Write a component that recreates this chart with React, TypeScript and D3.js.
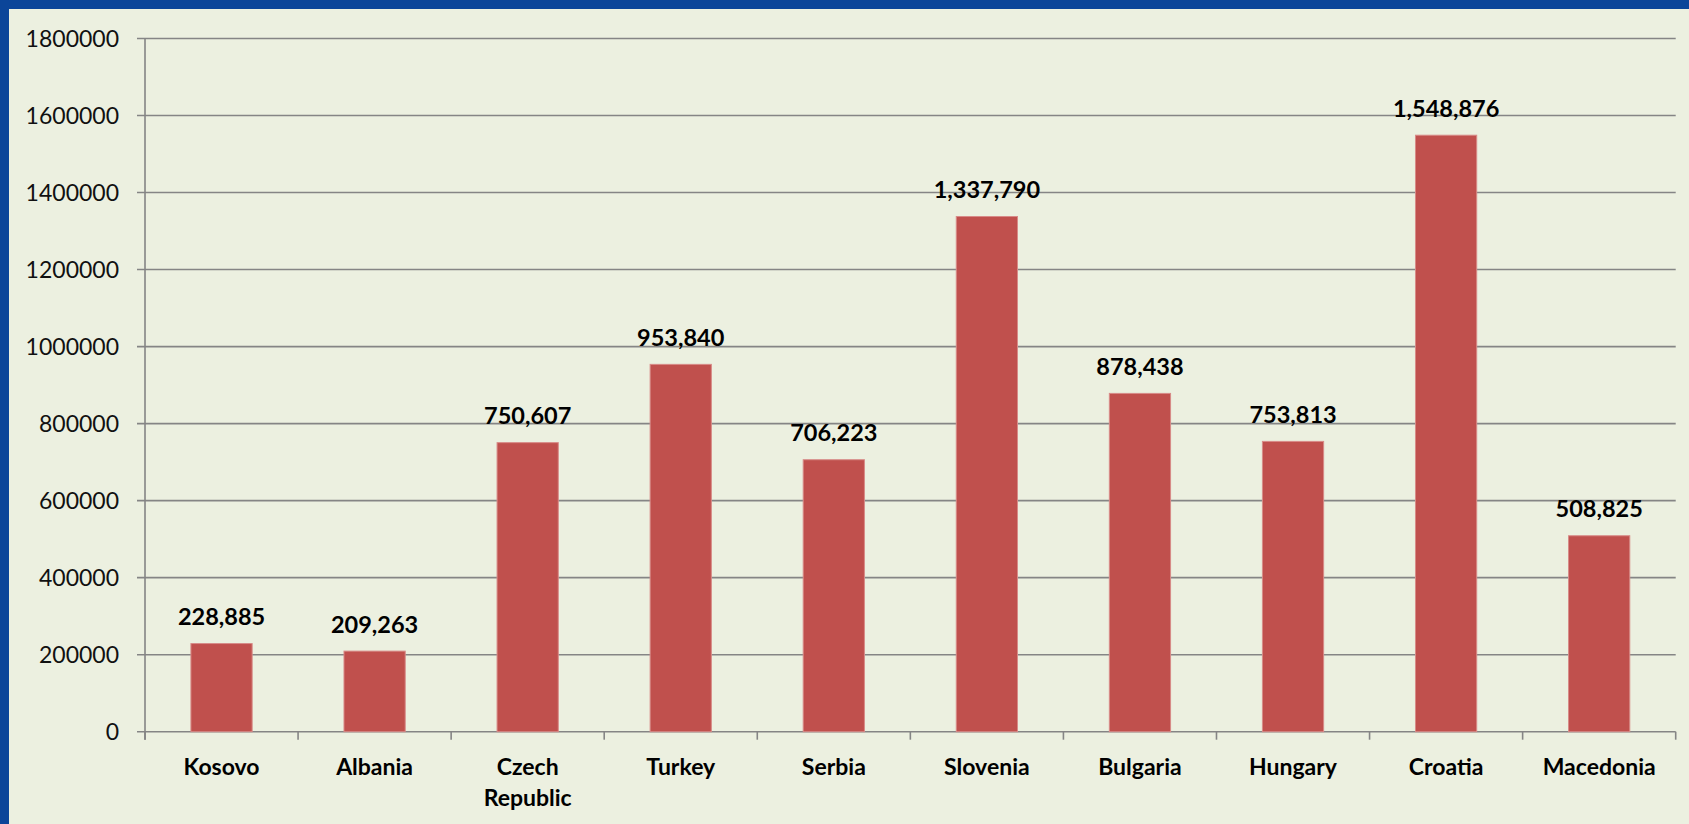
import * as d3 from 'd3';

const categories = ['Kosovo', 'Albania', 'Czech Republic', 'Turkey', 'Serbia', 'Slovenia', 'Bulgaria', 'Hungary', 'Croatia', 'Macedonia'];
const values = [228885, 209263, 750607, 953840, 706223, 1337790, 878438, 753813, 1548876, 508825];
const yTicks = [0, 200000, 400000, 600000, 800000, 1000000, 1200000, 1400000, 1600000, 1800000];

const W = 1689;
const H = 824;
const FONT = 'Lato, "Open Sans", sans-serif';

export default function App() {
  const left = 145;
  const right = 1675.7;
  const top = 38.5;
  const bottom = 731.7;

  const x = d3.scaleBand<string>().domain(categories).range([left, right]).paddingInner(0.6).paddingOuter(0.3);
  const y = d3.scaleLinear().domain([0, 1800000]).range([bottom, top]);
  const step = x.step();
  const fmt = d3.format(',');

  return (
    <div style={{ position: 'absolute', left: 0, top: 0 }}>
      <svg width={W} height={H} style={{ display: 'block' }}>
        <rect x={0} y={0} width={W} height={H} fill="#0B4599" />
        <rect x={9} y={9} width={W - 9} height={H - 9} fill="#ECF0E0" />

        {/* gridlines + y labels */}
        {yTicks.map(t => (
          <g key={t}>
            <line x1={left - 8} x2={right} y1={y(t)} y2={y(t)} stroke="#858585" strokeWidth={1.6} />
            <text x={119} y={y(t)} dy="0.36em" textAnchor="end" fontFamily={FONT} fontSize={23} fill="#111">{t}</text>
          </g>
        ))}

        {/* y axis */}
        <line x1={left} x2={left} y1={top} y2={bottom + 8} stroke="#858585" strokeWidth={1.6} />

        {/* x ticks */}
        {d3.range(categories.length + 1).map(i => (
          <line key={i} x1={left + i * step} x2={left + i * step} y1={bottom} y2={bottom + 8} stroke="#858585" strokeWidth={1.6} />
        ))}

        {/* bars */}
        {categories.map((c, i) => (
          <rect key={c} x={x(c)} y={y(values[i])} width={x.bandwidth()} height={bottom - y(values[i])}
            fill="#C0504D" stroke="#D88B88" strokeWidth={1} />
        ))}

        {/* value labels */}
        {categories.map((c, i) => (
          <text key={c} x={(x(c) as number) + x.bandwidth() / 2} y={y(values[i]) - 18.5} textAnchor="middle"
            fontFamily={FONT} fontWeight="bold" fontSize={23.5} fill="#000">{fmt(values[i])}</text>
        ))}

        {/* category labels */}
        {categories.map(c => (
          <text key={c} x={(x(c) as number) + x.bandwidth() / 2} y={775} textAnchor="middle"
            fontFamily={FONT} fontWeight="bold" fontSize={23} fill="#000">
            {c.split(' ').map((w, j) => (
              <tspan key={j} x={(x(c) as number) + x.bandwidth() / 2} dy={j === 0 ? 0 : 31}>{w}</tspan>
            ))}
          </text>
        ))}
      </svg>
    </div>
  );
}
